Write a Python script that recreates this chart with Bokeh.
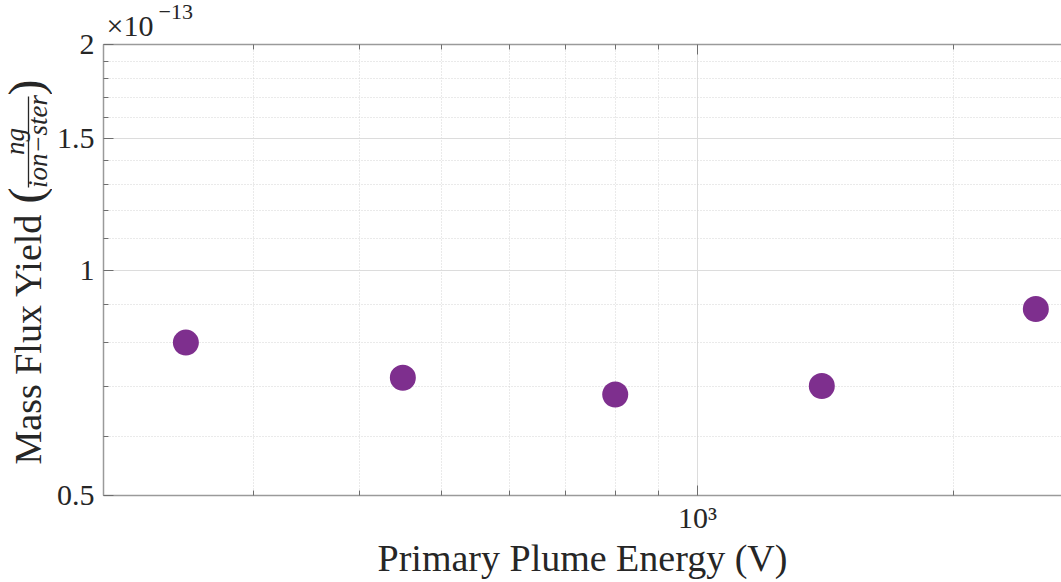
import numpy as np
from bokeh.plotting import figure
from bokeh.layouts import row
from bokeh.models import FixedTicker, LogAxis, Range1d, Title
from bokeh.core.properties import value
from bokeh.embed import file_html
from bokeh.resources import INLINE

# ---- data (values in units of 1e-13 ng/(ion-ster)) ----
energy_v = [250, 450, 800, 1400, 2500]
mass_flux_yield_e13 = [0.800, 0.718, 0.682, 0.700, 0.887]

x_major_ticks = [1000]
x_minor_ticks = [200, 300, 400, 500, 600, 700, 800, 900, 2000]
x_tick_labels = {1000: "10\u00b3"}
y_major_ticks = [0.5, 1.0, 1.5, 2.0]
y_minor_ticks = [0.6, 0.7, 0.8, 0.9, 1.1, 1.2, 1.3, 1.4, 1.6, 1.7, 1.8, 1.9]
y_tick_labels = {0.5: "0.5", 1.0: "1", 1.5: "1.5", 2.0: "2"}

x_label = "Primary Plume Energy (V)"
y_label = "Mass Flux Yield"
frac_num = "ng"
frac_den = "ion\u2212ster"
exponent_base = "\u00d710"
exponent_power = "\u221213"

W, H = 1061, 582
L = 52              # width of the left text strip
FT, FB = 44, 495    # page y of the plot frame top / bottom
FONT = "Liberation Serif"
TXT = "#262626"
AXC = "#9a9a9a"
TICKC = "#6e6e6e"

# ---- left strip: y label with fraction (frame aligned with main frame) ----
left_fig = figure(width=L, height=H, x_range=Range1d(0, L), y_range=Range1d(FB, FT),
                  x_axis_type=None, y_axis_type=None, output_backend="svg",
                  toolbar_location=None, min_border=0, min_border_left=0,
                  min_border_right=0, min_border_top=FT, min_border_bottom=H - FB)
left_fig.outline_line_color = None
left_fig.background_fill_color = "white"
left_fig.border_fill_color = "white"

rot = np.pi / 2
k = 0.28  # baseline correction (em)
left_fig.text(x=[38 - k * 38], y=[464], text=[y_label], angle=rot, text_font=value(FONT),
              text_font_size="38px", text_color=TXT, text_align="left",
              text_baseline="alphabetic")
left_fig.text(x=[38 - k * 48, 38 - k * 48], y=[195, 87], text=["(", ")"], angle=rot,
              text_font=value(FONT), text_font_size="48px", text_color=TXT,
              text_align="center", text_baseline="alphabetic")
left_fig.text(x=[22 - k * 27], y=[141], text=[frac_num], angle=rot, text_font=value(FONT),
              text_font_size="27px", text_font_style="italic", text_color=TXT,
              text_align="center", text_baseline="alphabetic")
left_fig.text(x=[45 - k * 27], y=[141], text=[frac_den], angle=rot, text_font=value(FONT),
              text_font_size="27px", text_font_style="italic", text_color=TXT,
              text_align="center", text_baseline="alphabetic")
left_fig.segment(x0=[28], y0=[96], x1=[28], y1=[187], line_color=TXT, line_width=1.3)

# ---- main plot ----
p = figure(width=W - L, height=H, x_axis_type="log", y_axis_type="log",
           x_range=Range1d(200, 2680), y_range=Range1d(0.5, 2.0),
           output_backend="svg", toolbar_location=None,
           min_border_left=103 - L, min_border_right=0,
           min_border_top=FT, min_border_bottom=H - FB)
p.outline_line_color = None
p.background_fill_color = "white"
p.border_fill_color = "white"

bottom = p.below[0]
left = p.left[0]
bottom.ticker = FixedTicker(ticks=x_major_ticks, minor_ticks=x_minor_ticks)
left.ticker = FixedTicker(ticks=y_major_ticks, minor_ticks=y_minor_ticks)
bottom.major_label_overrides = x_tick_labels
left.major_label_overrides = y_tick_labels

top = LogAxis(ticker=FixedTicker(ticks=x_major_ticks, minor_ticks=x_minor_ticks))
top.major_label_text_font_size = "0px"
top.major_label_standoff = 0
top.major_label_text_color = None
p.add_layout(top, "above")

p.add_layout(Title(text=exponent_base, align="left", offset=3, standoff=6,
                   text_font=FONT, text_font_size="30px", text_font_style="normal",
                   text_color=TXT), "above")
p.add_layout(Title(text=exponent_power, align="left", offset=55, standoff=-30,
                   text_font=FONT, text_font_size="22px", text_font_style="normal",
                   text_color=TXT), "above")

for ax in [bottom, left, top]:
    ax.axis_line_color = AXC
    ax.axis_line_width = 1.5
    ax.major_tick_in = 10
    ax.major_tick_out = 0
    ax.minor_tick_in = 5
    ax.minor_tick_out = 0
    ax.major_tick_line_color = TICKC
    ax.minor_tick_line_color = TICKC

for ax in [bottom, left]:
    ax.major_label_text_font = FONT
    ax.major_label_text_font_size = "30px"
    ax.major_label_text_color = TXT

bottom.major_label_standoff = 5
left.major_label_standoff = 9
bottom.axis_label = x_label
bottom.axis_label_text_font = FONT
bottom.axis_label_text_font_size = "38px"
bottom.axis_label_text_font_style = "normal"
bottom.axis_label_text_color = TXT
bottom.axis_label_standoff = 0

for g in [p.xgrid[0], p.ygrid[0]]:
    g.grid_line_color = "#dcdcdc"
    g.grid_line_width = 1
    g.minor_grid_line_color = "#d4d4d4"
    g.minor_grid_line_dash = "1 2"
    g.minor_grid_line_width = 1

p.scatter(energy_v, mass_flux_yield_e13, size=26, marker="circle",
          fill_color="#7E2F8E", line_color=None)

layout = row(left_fig, p, spacing=0)
open("out.html", "w").write(file_html(layout, INLINE))
